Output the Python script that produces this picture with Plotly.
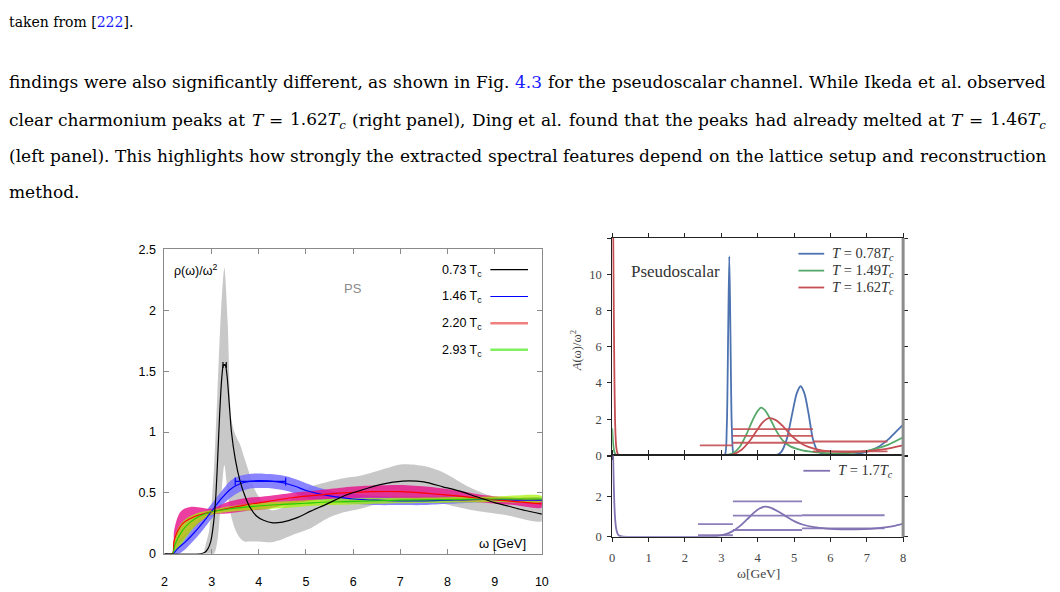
import re
import plotly.graph_objects as go

W, H = 1060, 592

# ---------------- left panel (Ding et al.) ----------------
black_x = [2.0, 2.75, 2.85, 2.92, 2.98, 3.04, 3.09, 3.13, 3.17, 3.21, 3.25, 3.29, 3.33, 3.37, 3.42, 3.5, 3.6, 3.7,
           3.8, 3.95, 4.1, 4.3, 4.5, 4.8, 5.1, 5.45, 5.8, 6.15, 6.6, 7.05, 7.5, 7.9, 8.3, 8.6, 9.0, 9.3, 9.65, 10.0]
black_y = [0, 0, 0.01, 0.04, 0.1, 0.25, 0.48, 0.8, 1.15, 1.42, 1.55, 1.55, 1.45, 1.25, 1.0, 0.78, 0.6, 0.48,
           0.39, 0.31, 0.275, 0.254, 0.26, 0.295, 0.35, 0.41, 0.475, 0.52, 0.57, 0.597, 0.59, 0.55, 0.51, 0.47,
           0.42, 0.39, 0.355, 0.325]

grey_x = [2.85, 2.95, 3.05, 3.12, 3.2, 3.27, 3.34, 3.42, 3.5, 3.6, 3.7, 3.8, 3.95, 4.25, 4.5, 4.75, 5.1, 5.45,
          5.8, 6.15, 6.6, 7.05, 7.5, 7.9, 8.5, 9.2, 10.0]
grey_up = [0.0, 0.2, 0.7, 1.3, 2.0, 2.35, 1.9, 1.1, 0.98, 0.9, 0.78, 0.66, 0.5, 0.36, 0.38, 0.47, 0.55, 0.59,
           0.62, 0.64, 0.69, 0.735, 0.72, 0.67, 0.54, 0.44, 0.41]
grey_lo = [0.0, 0.0, 0.0, 0.1, 0.45, 0.73, 0.5, 0.3, 0.2, 0.13, 0.1, 0.1, 0.1, 0.094, 0.12, 0.16, 0.21, 0.29,
           0.34, 0.37, 0.42, 0.45, 0.44, 0.41, 0.36, 0.32, 0.27]

blue_x = [2.0, 2.17, 2.3, 2.45, 2.6, 2.8, 3.0, 3.2, 3.4, 3.6, 3.8, 4.0, 4.2, 4.4, 4.6, 4.8, 5.0, 5.3, 5.6, 6.0,
          6.5, 7.0, 7.5, 8.0, 8.5, 9.0, 9.5, 10.0]
blue_y = [0, 0, 0.05, 0.1, 0.16, 0.25, 0.35, 0.45, 0.53, 0.575, 0.595, 0.6, 0.598, 0.59, 0.575, 0.55, 0.52, 0.49,
          0.47, 0.45, 0.44, 0.435, 0.435, 0.44, 0.445, 0.445, 0.44, 0.44]
blue_up = [0, 0, 0.11, 0.16, 0.22, 0.31, 0.41, 0.51, 0.6, 0.64, 0.655, 0.66, 0.655, 0.65, 0.635, 0.61, 0.58, 0.54,
           0.51, 0.49, 0.475, 0.47, 0.47, 0.47, 0.47, 0.465, 0.46, 0.46]
blue_lo = [0, 0, 0.0, 0.04, 0.1, 0.19, 0.29, 0.39, 0.46, 0.51, 0.535, 0.54, 0.54, 0.53, 0.515, 0.49, 0.46, 0.44,
           0.43, 0.41, 0.4, 0.4, 0.4, 0.41, 0.42, 0.425, 0.42, 0.42]

mag_x = [2.0, 2.17, 2.2, 2.26, 2.33, 2.42, 2.55, 2.75, 3.0, 3.3, 3.7, 4.2, 4.7, 5.2, 5.8, 6.4, 7.0, 7.6, 8.2, 8.8,
         9.4, 10.0]
mag_y = [0, 0, 0.1, 0.17, 0.22, 0.26, 0.29, 0.32, 0.345, 0.37, 0.4, 0.43, 0.46, 0.48, 0.5, 0.51, 0.51, 0.495,
         0.475, 0.45, 0.43, 0.41]
mag_up = [0, 0, 0.18, 0.28, 0.34, 0.37, 0.385, 0.38, 0.37, 0.42, 0.455, 0.475, 0.5, 0.52, 0.545, 0.56, 0.565,
          0.55, 0.52, 0.48, 0.46, 0.445]
mag_lo = [0, 0, 0.02, 0.05, 0.09, 0.13, 0.19, 0.26, 0.32, 0.33, 0.35, 0.37, 0.41, 0.44, 0.455, 0.46, 0.455, 0.44,
          0.43, 0.42, 0.4, 0.38]

grn_x = [2.0, 2.17, 2.22, 2.3, 2.4, 2.55, 2.75, 3.0, 3.4, 3.9, 4.5, 5.0, 5.5, 6.0, 7.0, 8.0, 9.0, 10.0]
grn_y = [0, 0, 0.07, 0.14, 0.2, 0.26, 0.31, 0.345, 0.37, 0.39, 0.405, 0.415, 0.425, 0.43, 0.44, 0.445, 0.45, 0.45]
grn_up = [0, 0, 0.14, 0.22, 0.27, 0.31, 0.34, 0.36, 0.39, 0.415, 0.43, 0.44, 0.45, 0.455, 0.46, 0.465, 0.47, 0.475]
grn_lo = [0, 0, 0.01, 0.05, 0.1, 0.18, 0.26, 0.32, 0.345, 0.36, 0.375, 0.39, 0.4, 0.405, 0.415, 0.42, 0.425, 0.43]

peak_err_x = [3.275, 4.04]
peak_err_y = [1.55, 0.594]
peak_err_minus = [0.035, 0.54]
peak_err_plus = [0.035, 0.53]

left_legend = ["0.73 T<sub>c</sub>", "1.46 T<sub>c</sub>", "2.20 T<sub>c</sub>", "2.93 T<sub>c</sub>"]

# ---------------- right panel (Ikeda et al.) ----------------
b78_x = [3.0, 3.1, 3.15, 3.19, 3.22, 3.25, 3.29, 3.34, 3.4, 4.5, 4.65, 4.8, 4.95, 5.07, 5.18, 5.29, 5.4, 5.52, 5.65,
         5.85, 6.2, 6.6, 7.0, 7.3, 7.6, 7.8, 8.0]
b78_y = [0, 0.05, 1.5, 7.0, 11.0, 7.0, 1.5, 0.05, 0, 0, 0.2, 0.9, 2.3, 3.4, 3.82, 3.4, 2.3, 0.9, 0.25,
         0.05, 0.02, 0.05, 0.2, 0.45, 0.9, 1.3, 1.7]

g149_x = [0.0, 0.03, 0.06, 0.1, 0.15, 1.0, 3.0, 3.3, 3.5, 3.7, 3.85, 4.0, 4.09, 4.2, 4.35, 4.5, 4.7, 4.9, 5.2,
          5.5, 5.9, 6.3, 6.8, 7.2, 7.6, 8.0]
g149_y = [1.5, 0.6, 0.2, 0.03, 0, 0, 0, 0.1, 0.45, 1.2, 1.9, 2.45, 2.64, 2.5, 2.0, 1.4, 0.8, 0.5, 0.3,
          0.2, 0.13, 0.12, 0.18, 0.35, 0.6, 1.0]

r162_x = [0.02, 0.04, 0.06, 0.08, 0.11, 0.15, 0.2, 1.0, 3.0, 3.3, 3.55, 3.8, 4.0, 4.15, 4.31, 4.5, 4.7, 4.9, 5.1,
          5.3, 5.6, 6.0, 6.5, 7.0, 7.5, 8.0]
r162_y = [14, 9, 4.5, 1.8, 0.5, 0.1, 0, 0, 0, 0.05, 0.3, 0.85, 1.45, 1.85, 2.06, 1.95, 1.6, 1.15, 0.8,
          0.55, 0.35, 0.22, 0.2, 0.24, 0.35, 0.55]

r162_bar_x0 = [2.41, 3.31, 3.31, 3.31, 5.52, 5.52]
r162_bar_x1 = [3.31, 5.52, 5.52, 5.52, 7.57, 7.57]
r162_bar_y = [0.55, 1.45, 1.08, 0.70, 0.77, 0.22]

p17_x = [0.0, 0.02, 0.04, 0.06, 0.08, 0.11, 0.15, 0.2, 0.3, 1.0, 2.0, 2.6, 2.9, 3.1, 3.3, 3.5, 3.7, 3.9, 4.05,
         4.2, 4.35, 4.55, 4.75, 5.0, 5.25, 5.55, 5.9, 6.3, 6.7, 7.1, 7.5, 7.8, 8.0]
p17_y = [6.0, 4.5, 2.8, 1.6, 0.9, 0.4, 0.15, 0.05, 0.01, 0, 0, 0.01, 0.05, 0.12, 0.27, 0.52, 0.85, 1.2, 1.4,
         1.5, 1.45, 1.27, 1.05, 0.78, 0.6, 0.48, 0.41, 0.37, 0.37, 0.4, 0.47, 0.56, 0.65]

p17_bar_x0 = [2.36, 2.36, 3.32, 3.32, 3.32, 5.22, 5.22]
p17_bar_x1 = [3.32, 3.32, 5.22, 5.22, 5.22, 7.49, 7.49]
p17_bar_y = [0.63, 0.08, 1.76, 1.05, 0.34, 1.07, 0.42]

right_legend = ["<i>T</i> = 0.78<i>T<sub>c</sub></i>", "<i>T</i> = 1.49<i>T<sub>c</sub></i>",
                "<i>T</i> = 1.62<i>T<sub>c</sub></i>"]
bottom_legend = "<i>T</i> = 1.7<i>T<sub>c</sub></i>"

# ---------------- page text ----------------
LINK = "#1a1aff"
caption_text = "taken from [<span style='color:%s'>222</span>]." % LINK
body_lines = [
    ["findings", "were", "also", "significantly", "different,", "as", "shown", "in", "Fig.",
     "<span style='color:%s'>4.3</span>" % LINK, "for", "the", "pseudoscalar", "channel.", "While", "Ikeda",
     "et", "al.", "observed"],
    ["clear", "charmonium", "peaks", "at", "<i>T</i>", "=", "1.62<i>T<sub>c</sub></i>", "(right", "panel),",
     "Ding", "et", "al.", "found", "that", "the", "peaks", "had", "already", "melted", "at", "<i>T</i>", "=",
     "1.46<i>T<sub>c</sub></i>"],
    ["(left", "panel).", "This", "highlights", "how", "strongly", "the", "extracted", "spectral", "features",
     "depend", "on", "the", "lattice", "setup", "and", "reconstruction"],
    ["method."],
]

# ---------------- styles ----------------
SANS = "Liberation Sans, Arial, sans-serif"
SERIF = "Liberation Serif, Times New Roman, serif"
BODYFONT = "DejaVu Serif, serif"
C_BLUE, C_GREEN, C_RED, C_PURPLE = "#4C72B0", "#55A868", "#C44E52", "#8172B2"

# approximate advance widths of DejaVu Serif (em) used to justify the paragraph lines
EM = {'a': .596, 'b': .640, 'c': .563, 'd': .640, 'e': .592, 'f': .372, 'g': .640, 'h': .640, 'i': .320,
      'j': .320, 'k': .610, 'l': .320, 'm': .948, 'n': .640, 'o': .602, 'p': .640, 'q': .640, 'r': .478,
      's': .513, 't': .402, 'u': .640, 'v': .565, 'w': .856, 'x': .564, 'y': .565, 'z': .527, 'D': .770,
      'F': .720, 'I': .423, 'T': .668, 'W': 1.03, '.': .318, ',': .318, '(': .390, ')': .390, '=': .838,
      '[': .390, ']': .390, ' ': .318}


def fx(p):
    return p / W


def fy(p):
    return 1 - p / H


fig = go.Figure()


def band(x, up, lo, color, ax="x", ay="y"):
    fig.add_trace(go.Scatter(x=list(x) + list(x)[::-1], y=list(up) + list(lo)[::-1], fill="toself",
                             fillcolor=color, mode="lines", line=dict(width=0, shape="spline", smoothing=0.8),
                             xaxis=ax, yaxis=ay, hoverinfo="skip", showlegend=False))


def line(x, y, color, width, ax="x", ay="y", shape="spline", smoothing=0.8):
    fig.add_trace(go.Scatter(x=x, y=y, mode="lines", line=dict(color=color, width=width, shape=shape,
                                                               smoothing=smoothing),
                             xaxis=ax, yaxis=ay, hoverinfo="skip", showlegend=False))


def hbars(x0s, x1s, ys, color, ax, ay):
    xs, yv = [], []
    for a, b, v in zip(x0s, x1s, ys):
        xs += [a, b, None]
        yv += [v, v, None]
    fig.add_trace(go.Scatter(x=xs, y=yv, mode="lines", line=dict(color=color, width=1.8), opacity=0.9,
                             xaxis=ax, yaxis=ay, hoverinfo="skip", showlegend=False))


# left bands
band(grey_x, grey_up, grey_lo, "rgb(200,200,200)")
band(blue_x, blue_up, blue_lo, "rgba(118,110,255,0.85)")
band(mag_x, mag_up, mag_lo, "rgba(232,20,140,0.82)")
band(grn_x, grn_up, grn_lo, "rgba(165,245,0,0.72)")
# left lines
line(blue_x, blue_y, "#0000ff", 1.2)
line(mag_x, mag_y, "#ff0000", 1.2)
line(grn_x, grn_y, "#22cc00", 1.2)
line(black_x, black_y, "#000000", 1.2, smoothing=0.6)
# error bars at the peaks
for i, col, cap in [(0, "black", 3), (1, "#0000ff", 4)]:
    fig.add_trace(go.Scatter(x=[peak_err_x[i]], y=[peak_err_y[i]], mode="markers",
                             marker=dict(size=0.1, color=col),
                             error_x=dict(type="data", array=[peak_err_plus[i]], arrayminus=[peak_err_minus[i]],
                                          color=col, thickness=1.2, width=cap),
                             xaxis="x", yaxis="y", hoverinfo="skip", showlegend=False))

# right top
line(b78_x, b78_y, C_BLUE, 1.8, "x2", "y2", smoothing=0.7)
line(g149_x, g149_y, C_GREEN, 1.8, "x2", "y2", smoothing=0.7)
line(r162_x, r162_y, C_RED, 1.8, "x2", "y2", smoothing=0.7)
hbars(r162_bar_x0, r162_bar_x1, r162_bar_y, C_RED, "x2", "y2")
# right bottom
line(p17_x, p17_y, C_PURPLE, 1.8, "x3", "y3", smoothing=0.7)
hbars(p17_bar_x0, p17_bar_x1, p17_bar_y, C_PURPLE, "x3", "y3")

# ---------------- axes ----------------
L_x0, L_x1, L_y0, L_y1 = 163, 544, 560, 248.3
R_x0, R_x1 = 615, 908.7
RT_y0, RT_y1 = 459.3, 236.7
RB_y0 = 542.7

left_ax = dict(showgrid=False, zeroline=False, showline=True, linecolor="#8a8a8a", linewidth=1, mirror="allticks",
               ticks="inside", ticklen=5, tickcolor="#8a8a8a", tickfont=dict(family=SANS, size=12.5, color="black"))
right_ax = dict(showgrid=False, zeroline=False, showline=True, linecolor="#222", linewidth=1.1, mirror="allticks",
                ticks="outside", ticklen=4, tickcolor="#222", tickfont=dict(family=SERIF, size=12.5, color="#444"))

fig.update_layout(
    width=W, height=H, margin=dict(l=0, r=0, t=0, b=0), paper_bgcolor="white", plot_bgcolor="white",
    showlegend=False,
    xaxis=dict(domain=[fx(L_x0), fx(L_x1)], range=[2, 10], tickvals=list(range(2, 11)), anchor="y",
               ticklabelstandoff=16, **left_ax),
    yaxis=dict(domain=[fy(L_y0), fy(L_y1)], range=[0, 2.5], tickvals=[0, 0.5, 1, 1.5, 2, 2.5],
               ticktext=["0", "0.5", "1", "1.5", "2", "2.5"], anchor="x", ticklabelstandoff=5, **left_ax),
    xaxis2=dict(domain=[fx(R_x0), fx(R_x1)], range=[0, 8], tickvals=list(range(0, 9)), showticklabels=False,
                anchor="y2", **right_ax),
    yaxis2=dict(domain=[fy(RT_y0), fy(RT_y1)], range=[0, 12], tickvals=[0, 2, 4, 6, 8, 10, 12],
                ticktext=["0", "2", "4", "6", "8", "10", ""], anchor="x2", ticklabelstandoff=3, **right_ax),
    xaxis3=dict(domain=[fx(R_x0), fx(R_x1)], range=[0, 8], tickvals=list(range(0, 9)), anchor="y3",
                ticklabelstandoff=5, **right_ax),
    yaxis3=dict(domain=[fy(RB_y0), fy(RT_y0)], range=[0, 4.03], tickvals=[0, 2, 4], ticktext=["0", "2", ""],
                anchor="x3", ticklabelstandoff=3, **right_ax),
)

shapes = []
# grey right spine of right panel
shapes.append(dict(type="line", xref="paper", yref="paper", x0=fx(R_x1), x1=fx(R_x1), y0=fy(RB_y0), y1=fy(RT_y1),
                   line=dict(color="#8c8c8c", width=3)))
# left legend samples
for yy, col, wd in [(269, "#000000", 1.2), (296.5, "#0000ff", 1.2), (324, "#f08080", 2.5), (351, "#80f060", 2.5)]:
    shapes.append(dict(type="line", xref="paper", yref="paper", x0=fx(492), x1=fx(530), y0=fy(yy), y1=fy(yy),
                       line=dict(color=col, width=wd)))
# right legend samples
for yy, col in [(252.7, C_BLUE), (270, C_GREEN), (287.3, C_RED)]:
    shapes.append(dict(type="line", xref="paper", yref="paper", x0=fx(803), x1=fx(829), y0=fy(yy), y1=fy(yy),
                       line=dict(color=col, width=1.8)))
shapes.append(dict(type="line", xref="paper", yref="paper", x0=fx(808), x1=fx(835), y0=fy(475), y1=fy(475),
                   line=dict(color=C_PURPLE, width=1.8)))
fig.update_layout(shapes=shapes)

ann = []


def text(x, y, s, size, family, color="black", xanchor="left", angle=0):
    ann.append(dict(x=fx(x), y=fy(y), xref="paper", yref="paper", text=s, showarrow=False, xanchor=xanchor,
                    yanchor="middle", textangle=angle, font=dict(size=size, family=family, color=color)))


def plain_width(s):
    return sum(EM.get(ch, 0.636) for ch in re.sub(r"<[^>]+>", "", s))


def word_width(s, fs):
    subs = re.findall(r"<sub>(.*?)</sub>", s)
    main = re.sub(r"<sub>.*?</sub>", "", s)
    return (plain_width(main) + 0.7 * sum(plain_width(sb) for sb in subs)) * fs


def justified(words, y, fs, x0=7, x1=1053, stretch=True):
    widths = [word_width(w, fs) for w in words]
    if stretch and len(words) > 1:
        gap = (x1 - x0 - sum(widths)) / (len(words) - 1)
    else:
        gap = EM[' '] * fs
    x = x0
    for w, wd in zip(words, widths):
        text(x - 3, y, w, fs, BODYFONT)
        x += wd + gap


# left panel texts
text(171, 269, "\u03c1(\u03c9)/\u03c9<sup>2</sup>", 12.5, SANS)
text(353, 288, "PS", 13, SANS, "#8a8a8a", "center")
text(530, 550, "\u03c9 [GeV]", 13, SANS, xanchor="right")
for yy, s in zip([269, 296.5, 324, 351], left_legend):
    text(486, yy + 1, s, 12.5, SANS, xanchor="right")

# right panel texts
text(632, 270.7, "Pseudoscalar", 17, SERIF, "#333")
for yy, s in zip([252.7, 270, 287.3], right_legend):
    text(835, yy, s, 14.5, SERIF, "#333")
text(841, 475, bottom_legend, 14.5, SERIF, "#333")
text(763, 580, "\u03c9[GeV]", 13.5, SERIF, "#444", "center")
text(578, 352, "<i>A</i>(\u03c9)/\u03c9<sup>2</sup>", 12.5, SERIF, "#444", "center", -90)

# page text
BODY = 17
text(4, 15, caption_text, 14, BODYFONT)
for yy, words, st in zip([77, 116, 153, 189], body_lines, [True, True, True, False]):
    justified(words, yy, BODY, stretch=st)

fig.update_layout(annotations=ann)
fig.write_html("out.html")
